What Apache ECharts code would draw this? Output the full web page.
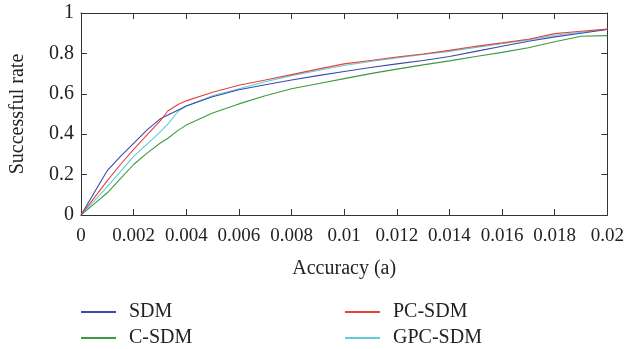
<!DOCTYPE html>
<html>
<head>
<meta charset="utf-8">
<script src="https://cdn.jsdelivr.net/npm/echarts@6/dist/echarts.min.js"></script>
<style>
  html, body { margin: 0; padding: 0; background: #fff; }
  #main { width: 627px; height: 349px; }
</style>
</head>
<body>
<div id="main"></div>
<script>
// accuracy (x) values shared by all curves
const accuracy = [0, 0.0005, 0.001, 0.0015, 0.002, 0.0025, 0.003, 0.0033, 0.0037, 0.004,
  0.005, 0.006, 0.007, 0.008, 0.009, 0.01, 0.011, 0.012, 0.013, 0.014,
  0.015, 0.016, 0.017, 0.018, 0.019, 0.02]

// successful rate for each method
const sdm = [0, 0.11, 0.22, 0.29, 0.355, 0.42, 0.475, 0.495, 0.52, 0.54,
  0.585, 0.62, 0.645, 0.668, 0.69, 0.71, 0.73, 0.748, 0.765, 0.785,
  0.81, 0.835, 0.86, 0.882, 0.9, 0.918]
const pcSdm = [0, 0.085, 0.17, 0.25, 0.325, 0.395, 0.465, 0.515, 0.548, 0.565,
  0.608, 0.642, 0.668, 0.695, 0.722, 0.748, 0.765, 0.782, 0.797, 0.815,
  0.835, 0.852, 0.87, 0.898, 0.91, 0.92]
const gpcSdm = [0, 0.07, 0.14, 0.215, 0.29, 0.35, 0.41, 0.45, 0.515, 0.54,
  0.59, 0.625, 0.66, 0.69, 0.715, 0.74, 0.76, 0.778, 0.795, 0.81,
  0.83, 0.848, 0.867, 0.89, 0.905, 0.92]
const cSdm = [0, 0.055, 0.11, 0.18, 0.25, 0.305, 0.355, 0.38, 0.42, 0.445,
  0.505, 0.55, 0.59, 0.625, 0.65, 0.675, 0.7, 0.722, 0.743, 0.763,
  0.785, 0.805, 0.828, 0.858, 0.885, 0.888]

const xTicks = [0, 0.002, 0.004, 0.006, 0.008, 0.01, 0.012, 0.014, 0.016, 0.018, 0.02]
const yTicks = [0, 0.2, 0.4, 0.6, 0.8, 1]

const font = 'Liberation Serif'
const axisColor = '#333'
const textColor = '#222'

const pairs = arr => accuracy.map((x, i) => [x, arr[i]])

const mkSeries = (name, arr, color) => ({
  name: name,
  type: 'line',
  data: pairs(arr),
  showSymbol: false,
  symbol: 'none',
  lineStyle: {width: 1.1, color: color},
  itemStyle: {color: color},
  animation: false,
})

// one legend per entry so each sits where the figure has it
const mkLegend = (name, left, top) => ({
  left: left,
  top: top,
  data: [name],
  icon: 'rect',
  itemWidth: 35,
  itemHeight: 2,
  textStyle: {fontFamily: font, fontSize: 20, color: textColor, padding: [0, 0, 0, 8], lineHeight: 20},
})

const frameAxis = {
  axisLine: {show: true, onZero: false, lineStyle: {color: axisColor, width: 1}},
  axisTick: {show: true, inside: true, length: 6, lineStyle: {color: axisColor}},
  splitLine: {show: false},
}

const option = {
  backgroundColor: '#fff',
  grid: {left: 81, right: 17, top: 13, bottom: 134},
  legend: [
    mkLegend('SDM', 76, 297),
    mkLegend('C-SDM', 76, 323),
    mkLegend('PC-SDM', 340, 297),
    mkLegend('GPC-SDM', 340, 323),
  ],
  xAxis: [
    Object.assign({
      type: 'value',
      min: 0,
      max: 0.02,
      interval: 0.002,
      name: 'Accuracy (a)',
      nameLocation: 'middle',
      nameGap: 44,
      nameTextStyle: {fontFamily: font, fontSize: 20, color: textColor},
      axisLabel: {
        fontFamily: font, fontSize: 19, color: textColor, margin: 12,
        formatter: v => String(+v.toFixed(3)),
      },
    }, frameAxis),
    Object.assign({
      type: 'value',
      position: 'top',
      min: 0,
      max: 0.02,
      interval: 0.002,
      axisLabel: {show: false},
    }, frameAxis),
  ],
  yAxis: [
    Object.assign({
      type: 'value',
      min: 0,
      max: 1,
      interval: 0.2,
      name: 'Successful rate',
      nameLocation: 'middle',
      nameGap: 53,
      nameTextStyle: {fontFamily: font, fontSize: 20, color: textColor},
      axisLabel: {
        fontFamily: font, fontSize: 20, color: textColor, margin: 7,
        formatter: v => String(+v.toFixed(1)),
      },
    }, frameAxis),
    Object.assign({
      type: 'value',
      position: 'right',
      min: 0,
      max: 1,
      interval: 0.2,
      axisLabel: {show: false},
    }, frameAxis),
  ],
  series: [
    mkSeries('C-SDM', cSdm, '#3e9a3e'),
    mkSeries('GPC-SDM', gpcSdm, '#5ccfd8'),
    mkSeries('SDM', sdm, '#3a4aae'),
    mkSeries('PC-SDM', pcSdm, '#e8423c'),
  ],
}

const myChart = echarts.init(document.getElementById('main'), null, {renderer: 'canvas'})
myChart.setOption(option)
</script>
</body>
</html>
